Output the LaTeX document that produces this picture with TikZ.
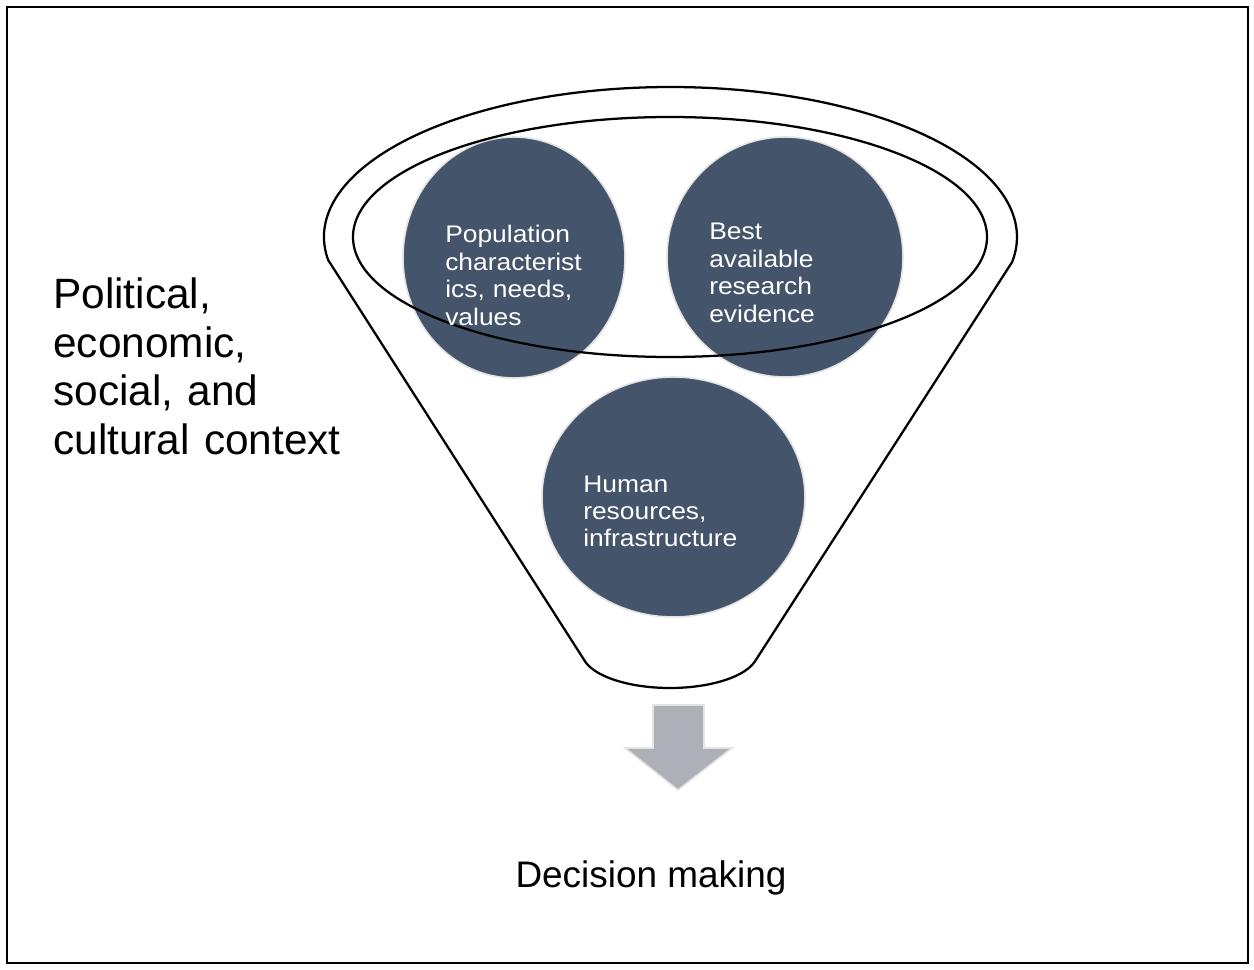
\documentclass[tikz,border=0pt]{standalone}
\usepackage{fontspec}
\setmainfont{Liberation Sans}
\newfontfamily\bubblefont[FakeStretch=1.1]{Liberation Sans}
\usetikzlibrary{shapes.geometric}
\definecolor{bubblefill}{HTML}{44546A}
\definecolor{bubbleedge}{HTML}{E4E4E4}
\definecolor{arrowgray}{HTML}{ADB0B7}

\begin{document}
\begin{tikzpicture}[x=0.75pt,y=-0.75pt,
    rim/.style={line width=1.7pt,draw=black},
    bubble/.style={ellipse,draw=bubbleedge,line width=1.2pt,fill=bubblefill,inner sep=0pt},
    bubbletext/.style={anchor=base west,inner sep=0pt,text=white,text width=125pt,align=left,
        font={\bubblefont\fontsize{18}{20.6}\selectfont}}]
    \useasboundingbox (0,0) rectangle (1254,970);
    \draw[line width=1.6pt] (7,7) rectangle (1248,963);
    \draw[rim] ([shift={(171.2:346.5 and 150)}]670.5,237)
        arc[start angle=171.2,end angle=369.6,x radius=346.5,y radius=150]
        -- ([shift={(15:88 and 36)}]670,652)
        arc[start angle=15,end angle=165,x radius=88,y radius=36] -- cycle;
    \node[bubble,minimum width=166.5pt,minimum height=180.75pt] (pop) at (514,257.5) {};
    \node[bubble,minimum width=177pt,minimum height=180pt] (best) at (785,257) {};
    \node[bubble,minimum width=197.25pt,minimum height=180pt] (human) at (673.5,497) {};
    \draw[rim] (670,237) ellipse[x radius=317,y radius=120];
    \node[bubbletext] (pop-label) at (445,243) {Population\\characterist\\ics, needs,\\values};
    \node[bubbletext] (best-label) at (709,240) {Best\\available\\research\\evidence};
    \node[bubbletext] (human-label) at (583,492) {Human\\resources,\\infrastructure};
    \node[anchor=base west,inner sep=0pt,text width=230pt,align=left,
        font={\fontsize{31.8}{36.75}\selectfont}] (context) at (53,308)
        {Political,\\economic,\\social, and\\cultural context};
    \draw[draw=bubbleedge,line width=1.2pt,fill=arrowgray] (653,705) -- (704,705) -- (704,748)
        -- (732,748) -- (678,790) -- (625,748) -- (653,748) -- cycle;
    \node[anchor=base,inner sep=0pt,font={\fontsize{27.7}{33}\selectfont}] (decision) at (651,887) {Decision making};
\end{tikzpicture}
\end{document}
